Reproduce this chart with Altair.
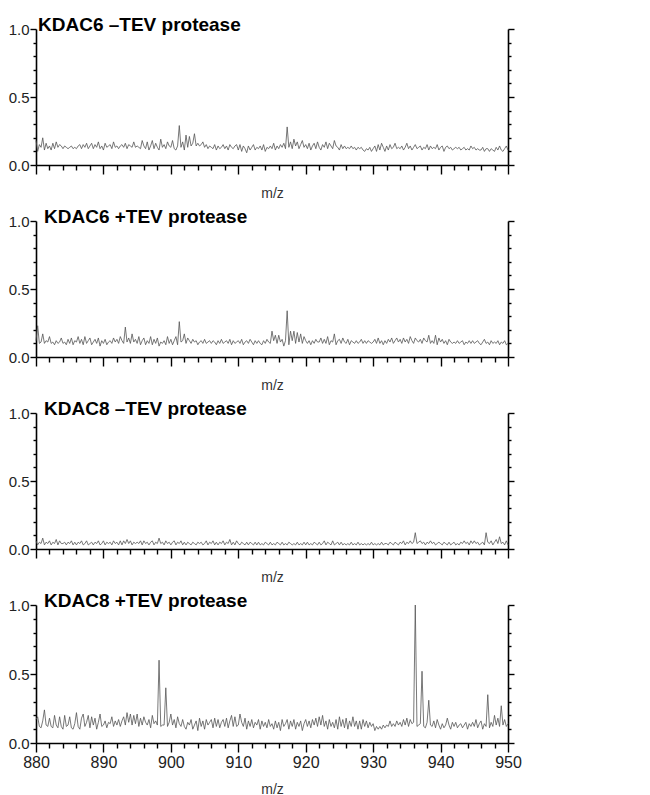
import altair as alt
import pandas as pd

# m/z sampling of the traces (start, step)
MZ_START = 880
MZ_STEP = 0.25

titles = ["KDAC6 \u2013TEV protease", "KDAC6 +TEV protease",
          "KDAC8 \u2013TEV protease", "KDAC8 +TEV protease"]

x_ticks = [880, 882, 884, 886, 888, 890, 892, 894, 896, 898, 900, 902, 904, 906, 908,
           910, 912, 914, 916, 918, 920, 922, 924, 926, 928, 930, 932, 934, 936, 938,
           940, 942, 944, 946, 948, 950]
y_ticks = [0.0, 0.1, 0.2, 0.3, 0.4, 0.5, 0.6, 0.7, 0.8, 0.9, 1.0]

kdac6_minus = [
    .18, .10, .15, .13, .20, .11, .16, .12, .14, .11, .16, .12, .17, .13, .15, .14, .12, .14, .13, .12,
    .13, .14, .12, .13, .12, .14, .15, .12, .15, .13, .16, .12, .14, .16, .12, .15, .13, .17, .12, .14,
    .11, .16, .13, .14, .15, .12, .17, .13, .14, .12, .14, .15, .13, .16, .12, .15, .14, .13, .17, .13,
    .14, .13, .12, .18, .14, .12, .17, .11, .14, .18, .12, .16, .13, .11, .19, .13, .15, .12, .17, .14,
    .13, .18, .12, .11, .14, .29, .13, .17, .11, .22, .13, .21, .14, .16, .23, .14, .16, .14, .15, .17,
    .13, .15, .12, .14, .13, .12, .15, .11, .14, .12, .13, .15, .12, .14, .11, .15, .13, .12, .14, .15,
    .11, .15, .10, .14, .12, .09, .14, .11, .13, .15, .11, .13, .12, .14, .11, .15, .10, .13, .12, .14,
    .12, .16, .11, .14, .12, .15, .13, .16, .12, .28, .13, .17, .12, .19, .14, .17, .12, .15, .18, .13,
    .15, .12, .16, .11, .14, .16, .12, .17, .13, .11, .15, .13, .17, .12, .16, .14, .12, .18, .14, .13,
    .11, .15, .12, .14, .12, .13, .12, .14, .12, .13, .11, .13, .12, .13, .11, .10, .12, .11, .13, .10,
    .12, .14, .10, .15, .11, .16, .13, .10, .14, .11, .15, .12, .13, .16, .12, .13, .12, .14, .11, .13,
    .16, .12, .14, .11, .13, .15, .12, .13, .14, .11, .13, .12, .15, .11, .14, .12, .13, .12, .15, .11,
    .13, .14, .10, .13, .14, .12, .13, .11, .12, .13, .12, .13, .11, .12, .13, .11, .12, .11, .14, .12,
    .13, .11, .12, .11, .11, .13, .10, .12, .12, .10, .12, .11, .10, .13, .11, .14, .11, .10, .12, .14,
    .11,
]

kdac6_plus = [
    .12, .23, .10, .11, .17, .10, .12, .11, .15, .10, .11, .09, .12, .10, .11, .14, .10, .11, .09, .13,
    .10, .14, .09, .12, .11, .15, .10, .13, .09, .15, .10, .12, .14, .09, .11, .13, .10, .14, .08, .12,
    .10, .13, .09, .11, .12, .10, .14, .11, .13, .10, .15, .12, .10, .22, .11, .14, .10, .17, .11, .13,
    .10, .15, .09, .12, .14, .09, .12, .10, .15, .09, .13, .10, .14, .08, .11, .10, .12, .09, .15, .10,
    .13, .09, .12, .15, .09, .26, .11, .12, .17, .10, .14, .12, .10, .13, .11, .12, .09, .11, .12, .10,
    .13, .10, .11, .12, .10, .12, .11, .09, .12, .10, .13, .10, .11, .12, .10, .13, .09, .12, .10, .11,
    .12, .10, .13, .09, .11, .12, .10, .13, .11, .09, .12, .10, .12, .10, .09, .12, .10, .13, .11, .10,
    .19, .12, .16, .10, .16, .11, .13, .08, .12, .34, .09, .19, .12, .19, .10, .18, .11, .17, .10, .15,
    .12, .10, .12, .09, .12, .10, .13, .11, .11, .14, .10, .13, .10, .15, .09, .12, .11, .17, .09, .12,
    .13, .10, .14, .11, .10, .13, .09, .12, .11, .10, .12, .10, .11, .13, .10, .12, .10, .12, .11, .10,
    .11, .13, .10, .14, .10, .12, .09, .12, .10, .13, .11, .14, .10, .12, .14, .11, .13, .10, .14, .11,
    .13, .10, .15, .12, .10, .14, .12, .11, .13, .10, .14, .12, .11, .16, .10, .12, .10, .16, .09, .14,
    .11, .13, .10, .12, .09, .13, .11, .10, .11, .10, .12, .10, .11, .12, .09, .11, .10, .12, .10, .12,
    .10, .11, .12, .10, .09, .11, .13, .10, .11, .09, .12, .10, .11, .10, .12, .09, .11, .10, .12, .09,
    .10,
]

kdac8_minus = [
    .06, .03, .05, .04, .08, .03, .05, .04, .06, .03, .05, .04, .07, .03, .06, .04, .04, .05, .03, .05,
    .04, .06, .03, .05, .03, .05, .04, .06, .03, .04, .06, .03, .04, .05, .03, .05, .04, .06, .03, .04,
    .06, .03, .05, .04, .05, .03, .06, .04, .05, .03, .06, .03, .06, .04, .07, .04, .06, .03, .05, .04,
    .05, .04, .06, .03, .06, .04, .05, .03, .05, .06, .03, .05, .04, .08, .04, .05, .03, .06, .04, .05,
    .03, .05, .06, .03, .05, .04, .06, .03, .05, .03, .05, .04, .03, .05, .04, .03, .05, .04, .05, .03,
    .04, .06, .03, .05, .04, .06, .03, .05, .03, .05, .04, .06, .03, .05, .04, .07, .03, .05, .03, .06,
    .04, .03, .05, .04, .03, .05, .03, .05, .04, .03, .05, .03, .05, .03, .04, .03, .05, .04, .03, .05,
    .03, .04, .03, .05, .04, .03, .05, .03, .04, .03, .05, .04, .03, .04, .03, .05, .03, .04, .03, .05,
    .03, .05, .03, .04, .03, .05, .04, .03, .05, .03, .04, .06, .03, .05, .04, .03, .06, .03, .04, .05,
    .03, .05, .03, .04, .03, .04, .03, .05, .03, .04, .03, .05, .03, .04, .03, .04, .03, .04, .03, .05,
    .03, .04, .03, .04, .03, .05, .03, .04, .04, .03, .05, .04, .03, .05, .04, .03, .05, .04, .06, .03,
    .05, .04, .06, .04, .05, .12, .04, .05, .06, .04, .05, .03, .05, .04, .06, .04, .05, .03, .04, .05,
    .04, .03, .05, .04, .03, .05, .03, .04, .05, .03, .04, .03, .05, .04, .06, .04, .05, .03, .06, .04,
    .06, .04, .05, .03, .04, .05, .03, .12, .05, .04, .06, .03, .05, .07, .04, .09, .04, .05, .03, .06,
    .03,
]

kdac8_plus = [
    .17, .19, .12, .11, .16, .24, .13, .12, .18, .12, .11, .20, .13, .11, .19, .12, .10, .20, .12, .13,
    .19, .11, .10, .14, .22, .12, .10, .18, .21, .12, .15, .20, .11, .19, .13, .18, .10, .15, .21, .12,
    .13, .16, .11, .15, .14, .19, .12, .16, .13, .17, .12, .16, .19, .13, .22, .15, .21, .13, .20, .14,
    .21, .12, .18, .13, .19, .15, .13, .17, .11, .20, .14, .16, .13, .60, .12, .13, .13, .40, .12, .15,
    .21, .13, .17, .11, .19, .14, .12, .17, .12, .10, .15, .13, .17, .10, .13, .16, .09, .18, .12, .16,
    .10, .17, .13, .15, .17, .11, .18, .12, .17, .11, .15, .17, .12, .18, .11, .16, .20, .12, .19, .12,
    .13, .21, .15, .12, .18, .10, .16, .12, .17, .11, .15, .13, .17, .10, .16, .12, .15, .11, .17, .12,
    .14, .10, .16, .11, .15, .09, .17, .12, .14, .17, .10, .16, .12, .17, .10, .15, .12, .16, .09, .14,
    .17, .12, .16, .11, .17, .13, .18, .12, .19, .13, .20, .12, .16, .10, .17, .12, .15, .11, .17, .10,
    .19, .12, .17, .11, .18, .10, .16, .12, .19, .12, .16, .10, .16, .10, .17, .12, .16, .11, .15, .12,
    .14, .09, .12, .10, .12, .10, .13, .11, .13, .12, .16, .12, .14, .12, .16, .13, .15, .12, .17, .13,
    .18, .12, .17, .14, .15, 1.0, .12, .13, .14, .52, .12, .11, .15, .31, .13, .12, .16, .11, .17, .13,
    .10, .14, .11, .13, .18, .13, .10, .15, .12, .15, .11, .13, .14, .11, .13, .15, .10, .14, .12, .15,
    .12, .17, .11, .14, .16, .10, .14, .12, .35, .11, .15, .12, .20, .13, .18, .12, .27, .13, .17, .12,
    .14,
]

series = [kdac6_minus, kdac6_plus, kdac8_minus, kdac8_plus]
title_x = [2, 8, 8, 8]
panel_h = [136, 136, 136, 138]

FONT = "Liberation Sans"
LINE_COLOR = "#555555"

major_x = {"condition": {"test": "datum.value % 10 === 0", "value": 9}, "value": 5}
major_y = {"condition": {"test": "datum.value === 0 || datum.value === 0.5 || datum.value === 1",
                         "value": 6}, "value": 3}


def panel(values, title, tx, h, show_labels):
    df = pd.DataFrame({
        "mz": [MZ_START + MZ_STEP * i for i in range(len(values))],
        "intensity": values,
    })
    xenc = alt.X(
        "mz:Q",
        scale=alt.Scale(domain=[880, 950], nice=False, zero=False),
        axis=alt.Axis(
            values=x_ticks, title="m/z", labels=show_labels,
            labelExpr="datum.value % 10 === 0 ? datum.label : ''",
            labelFlush=False, labelOverlap=False, labelPadding=2, labelFontSize=16,
            tickSize=major_x, titlePadding=12,
        ),
    )
    yscale = alt.Scale(domain=[0, 1], nice=False, zero=True)
    left = alt.Chart(df).mark_line(color=LINE_COLOR, strokeWidth=0.8).encode(
        x=xenc,
        y=alt.Y("intensity:Q", scale=yscale, axis=alt.Axis(
            values=y_ticks, title=None, format=".1f",
            labelExpr="(datum.value === 0 || datum.value === 0.5 || datum.value === 1) ? datum.label : ''",
            labelOverlap=False, labelPadding=1, tickSize=major_y, orient="left")),
    )
    right = alt.Chart(df).mark_line(strokeOpacity=0).encode(
        x=xenc,
        y=alt.Y("intensity:Q", scale=yscale, axis=alt.Axis(
            values=y_ticks, title=None, labels=False, tickSize=major_y, orient="right")),
    )
    label = alt.Chart(pd.DataFrame({"t": [title]})).mark_text(
        align="left", baseline="alphabetic", font=FONT, fontSize=19,
        fontWeight="bold", color="black",
    ).encode(x=alt.value(tx), y=alt.value(2), text="t:N")
    return alt.layer(left, right, label).resolve_axis(y="independent").properties(
        width=472, height=h)


panels = [panel(series[i], titles[i], title_x[i], panel_h[i], i == 3) for i in range(4)]

chart = alt.vconcat(*panels, spacing=7).properties(
    padding={"left": 0, "top": 8, "right": 5, "bottom": 0}
).configure_view(stroke=None).configure_axis(
    grid=False, domainColor="black", domainWidth=1.6, tickColor="black", tickWidth=1.4,
    labelFont=FONT, labelFontSize=15, labelColor="#222222",
    titleFont=FONT, titleFontSize=14, titleFontWeight="normal", titleColor="#333333",
)

chart.save("out.html", embed_options={"renderer": "svg", "actions": False})
